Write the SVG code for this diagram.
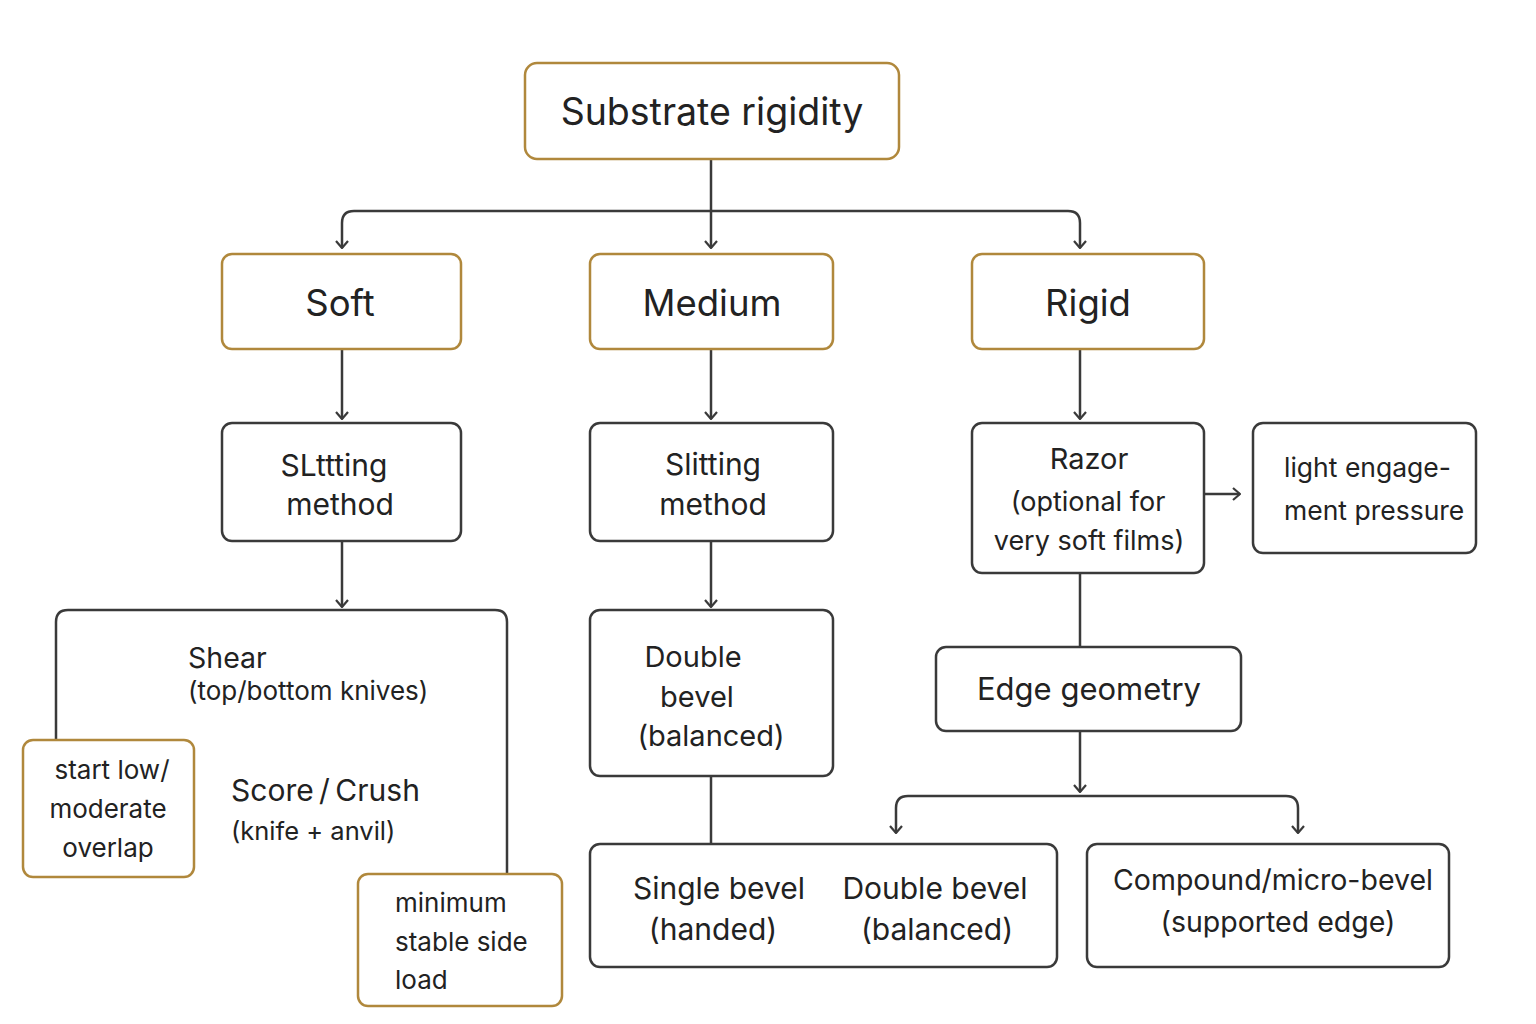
<svg xmlns="http://www.w3.org/2000/svg" width="1536" height="1024" viewBox="0 0 1536 1024">
<style>
.g{fill:#fff;stroke:#B0883C;stroke-width:2.5}
.d{fill:#fff;stroke:#3a3a3a;stroke-width:2.5}
.c{fill:none;stroke:#3a3a3a;stroke-width:2.5}
text{font-family:Inter,"Noto Sans","Liberation Sans",sans-serif;fill:#222}
.m{text-anchor:middle}
</style>
<defs>
<marker id="a" viewBox="0 0 14 14" refX="13" refY="7" markerWidth="14" markerHeight="14" markerUnits="userSpaceOnUse" orient="auto-start-reverse">
<path d="M6 1 L13 7 L6 13" fill="none" stroke="#3a3a3a" stroke-width="2.2"/>
</marker>
</defs>
<rect width="1536" height="1024" fill="#fff"/>
<g id="connectors">
<path class="c" d="M711 159 V248" marker-end="url(#a)"/>
<path class="c" d="M342 248 V223 Q342 211 354 211 H1068 Q1080 211 1080 223 V248" marker-start="url(#a)" marker-end="url(#a)"/>
<path class="c" d="M342 349 V419" marker-end="url(#a)"/>
<path class="c" d="M711 349 V419" marker-end="url(#a)"/>
<path class="c" d="M1080 349 V419" marker-end="url(#a)"/>
<path class="c" d="M342 541 V607" marker-end="url(#a)"/>
<path class="c" d="M711 541 V607" marker-end="url(#a)"/>
<path class="c" d="M1204 494 H1240" marker-end="url(#a)"/>
<path class="c" d="M1080 573 V647"/>
<path class="c" d="M1080 731 V792" marker-end="url(#a)"/>
<path class="c" d="M896 833 V808 Q896 796 908 796 H1286 Q1298 796 1298 808 V833" marker-start="url(#a)" marker-end="url(#a)"/>
<path class="c" d="M711 776 V844"/>
</g>
<g id="n-substrate"><rect class="g" x="525" y="63" width="374" height="96" rx="12"/><text class="m" x="712" y="125" font-size="37.5">Substrate rigidity</text></g>
<g id="n-soft"><rect class="g" x="222" y="254" width="239" height="95" rx="10"/><text class="m" x="340" y="316" font-size="36.5">Soft</text></g>
<g id="n-medium"><rect class="g" x="590" y="254" width="243" height="95" rx="10"/><text class="m" x="712" y="316" font-size="36.5">Medium</text></g>
<g id="n-rigid"><rect class="g" x="972" y="254" width="232" height="95" rx="10"/><text class="m" x="1088" y="316" font-size="36.5">Rigid</text></g>
<g id="n-slitting-soft"><rect class="d" x="222" y="423" width="239" height="118" rx="10"/><text class="m" x="334" y="476" font-size="30">SLttting</text><text class="m" x="340" y="515" font-size="30">method</text></g>
<g id="n-slitting-medium"><rect class="d" x="590" y="423" width="243" height="118" rx="10"/><text class="m" x="713" y="475" font-size="30">Slitting</text><text class="m" x="713" y="515" font-size="30">method</text></g>
<g id="n-razor"><rect class="d" x="972" y="423" width="232" height="150" rx="10"/><text class="m" x="1089" y="469" font-size="29">Razor</text><text class="m" x="1088" y="511" font-size="27">(optional for</text><text class="m" x="1089" y="550" font-size="27">very soft films)</text></g>
<g id="n-light"><rect class="d" x="1253" y="423" width="223" height="130" rx="10"/><text x="1284" y="477" font-size="26.5">light engage-</text><text x="1284" y="520" font-size="26.5">ment pressure</text></g>
<g id="n-shear"><path class="c" d="M56 739 V622 Q56 610 68 610 H495 Q507 610 507 622 V873"/><text x="188" y="668" font-size="28.5">Shear</text><text x="188" y="700" font-size="26">(top/bottom knives)</text><text x="231" y="801" font-size="30">Score&#8201;/&#8201;Crush</text><text x="231" y="840" font-size="25.5">(knife + anvil)</text></g>
<g id="n-startlow"><rect class="g" x="23" y="740" width="171" height="137" rx="10"/><text class="m" x="112" y="779" font-size="26">start low/</text><text class="m" x="108" y="818" font-size="26">moderate</text><text class="m" x="108" y="857" font-size="26">overlap</text></g>
<g id="n-minimum"><rect class="g" x="358" y="874" width="204" height="132" rx="10"/><text x="395" y="912" font-size="26">minimum</text><text x="395" y="951" font-size="26">stable side</text><text x="395" y="989" font-size="26">load</text></g>
<g id="n-double"><rect class="d" x="590" y="610" width="243" height="166" rx="10"/><text class="m" x="693" y="667" font-size="29">Double</text><text class="m" x="697" y="707" font-size="29">bevel</text><text class="m" x="711" y="746" font-size="29">(balanced)</text></g>
<g id="n-edge"><rect class="d" x="936" y="647" width="305" height="84" rx="10"/><text class="m" x="1089" y="700" font-size="31">Edge geometry</text></g>
<g id="n-bevels"><rect class="d" x="590" y="844" width="467" height="123" rx="10"/><text class="m" x="719" y="899" font-size="30">Single bevel</text><text class="m" x="713" y="940" font-size="30">(handed)</text><text class="m" x="935" y="899" font-size="30">Double bevel</text><text class="m" x="937" y="940" font-size="30">(balanced)</text></g>
<g id="n-compound"><rect class="d" x="1087" y="844" width="362" height="123" rx="10"/><text class="m" x="1273" y="890" font-size="28.5">Compound/micro-bevel</text><text class="m" x="1278" y="932" font-size="28.5">(supported edge)</text></g>
</svg>
